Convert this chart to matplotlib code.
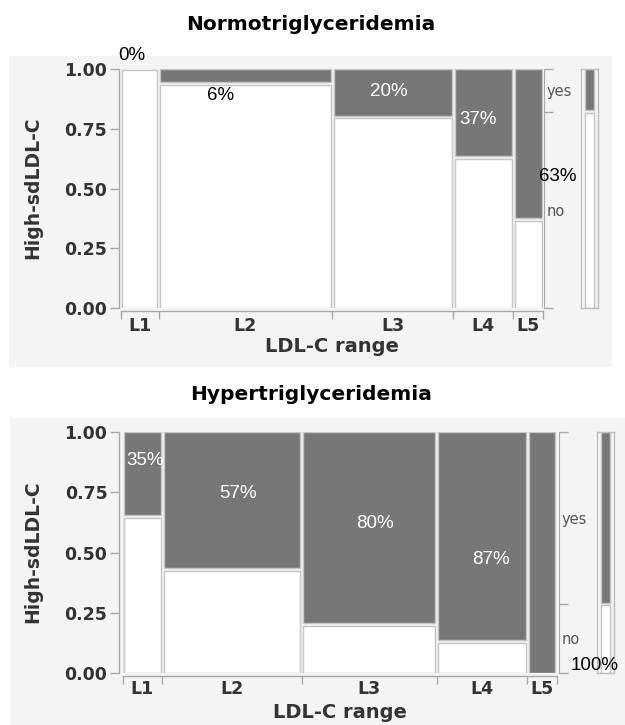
import numpy as np
from matplotlib import pyplot as plt
from matplotlib import font_manager
from matplotlib.patches import Rectangle

# LDL-C range levels and the share of patients in each one (column widths)
LEVELS = ["L1", "L2", "L3", "L4", "L5"]
NORMO_SHARE = [0.090, 0.411, 0.287, 0.143, 0.070]
HYPER_SHARE = [0.091, 0.321, 0.311, 0.208, 0.069]

# fraction with high sdLDL-C ("yes") in each level
NORMO_YES = [0.00, 0.06, 0.20, 0.37, 0.63]
HYPER_YES = [0.35, 0.57, 0.80, 0.87, 1.00]

GRAY = "#777777"
EDGE = "#c4c4c4"
SPINE = "#a8a8a8"
TEXT = "#333333"
W, H = 625, 725

# the percent labels use a narrow sans if there is one
_NAMES = {f.name for f in font_manager.fontManager.ttflist}
if "Liberation Sans Narrow" in _NAMES:
    PCT_FONT, PCT_SIZE = ["Liberation Sans Narrow", "DejaVu Sans"], 15.5
else:
    PCT_FONT, PCT_SIZE = ["Liberation Sans", "DejaVu Sans"], 13.5


def fig_box(x0, y0, x1, y1):
    """Pixel box (top-left origin) -> figure fraction rect."""
    return [x0 / W, 1 - y1 / H, (x1 - x0) / W, (y1 - y0) / H]


def draw_mosaic(ax, shares, yes, gap_x=0.007, gap_y=0.011):
    """Draw a mosaic plot: column width = share, gray = yes fraction."""
    shares = np.asarray(shares) / np.sum(shares)
    lefts = np.concatenate([[0], np.cumsum(shares)[:-1]])
    for left, width, frac in zip(lefts, shares, yes):
        split = 1 - frac
        if split > 0:
            ax.bar(left + gap_x / 2, max(split - gap_y / 2, 0), width - gap_x,
                   bottom=0, align="edge", color="white",
                   edgecolor=EDGE, linewidth=1.0)
        if frac > 0:
            low = split + gap_y / 2 if split > 0 else 0
            ax.bar(left + gap_x / 2, 1 - low, width - gap_x, bottom=low,
                   align="edge", color=GRAY, edgecolor=EDGE, linewidth=1.0)
    return lefts, shares


def style_axes(ax, lefts, shares, label_pad, left_out):
    """Axis ticks and spines like the JMP mosaic output."""
    ax.set_facecolor("none")
    ax.set_xlim(0, 1)
    ax.set_ylim(0, 1)
    for side in ["top", "right"]:
        ax.spines[side].set_visible(False)
    ax.spines["left"].set_position(("outward", left_out))
    ax.spines["bottom"].set_position(("outward", 2))
    for side in ["left", "bottom"]:
        ax.spines[side].set_color(SPINE)
        ax.spines[side].set_linewidth(1.0)

    ax.set_yticks([0, 0.25, 0.5, 0.75, 1.0])
    ax.set_yticklabels(["0.00", "0.25", "0.50", "0.75", "1.00"])
    ax.tick_params(axis="y", length=6.5, width=1.0, color=SPINE, pad=2,
                   labelsize=12.5, labelcolor=TEXT)

    bounds = list(lefts) + [1.0]
    ax.set_xticks(bounds)
    ax.set_xticklabels([])
    ax.set_xticks(lefts + shares / 2, minor=True)
    ax.set_xticklabels(LEVELS, minor=True)
    ax.tick_params(axis="x", which="major", length=6, width=1.0, color=SPINE)
    ax.tick_params(axis="x", which="minor", length=0, pad=label_pad,
                   labelsize=12.5, labelcolor=TEXT)
    for lab in ax.get_xticklabels(minor=True) + ax.get_yticklabels():
        lab.set_fontweight("bold")


def add_right_axis(ax, overall, right_out):
    """Right axis with yes / no labels at the overall split."""
    rax = ax.twinx()
    rax.set_ylim(0, 1)
    for side in ["top", "left", "bottom"]:
        rax.spines[side].set_visible(False)
    rax.spines["right"].set_position(("outward", right_out))
    rax.spines["right"].set_color(SPINE)
    split = 1 - overall
    rax.set_yticks([0, split, 1])
    rax.set_yticklabels([])
    rax.set_yticks([split / 2, split + overall / 2], minor=True)
    rax.set_yticklabels(["no", "yes"], minor=True)
    rax.tick_params(which="major", length=6.5, width=1.0, color=SPINE)
    rax.tick_params(which="minor", length=0, pad=1.5, labelsize=10.5,
                    labelcolor="#555555")
    rax.set_zorder(2)
    ax.set_zorder(4)


def add_side_bar(fig, rect, overall):
    """Small stacked bar with the overall yes / no split."""
    sax = fig.add_axes(rect)
    sax.set_zorder(1)
    sax.set_facecolor("none")
    sax.set_xlim(-0.5, 0.5)
    sax.set_ylim(0, 1)
    sax.set_xticks([])
    sax.set_yticks([])
    for sp in sax.spines.values():
        sp.set_color("#bdbdbd")
        sp.set_linewidth(1.0)
    split = 1 - overall
    sax.bar(0, split - 0.006, 0.53, bottom=0, color="white",
            edgecolor=EDGE, linewidth=1.0)
    sax.bar(0, overall - 0.006, 0.53, bottom=split + 0.006, color=GRAY,
            edgecolor=EDGE, linewidth=1.0)


def add_percent_labels(ax, lefts, shares, yes, dx, ys, colors):
    """Percent annotations placed over / beside each column."""
    centers = lefts + shares / 2
    for cx, frac, off, yy, col in zip(centers, yes, dx, ys, colors):
        ax.text(cx + off, yy, f"{round(frac * 100)}%", ha="center",
                va="center", color=col, fontsize=PCT_SIZE, clip_on=False,
                family=PCT_FONT, zorder=5)


def panel(fig, box, title, title_y, ylabel_y, xlabel_y, xlabel_x):
    """Light gray background panel with title and axis labels."""
    x0, y0, x1, y1 = box
    fig.add_artist(Rectangle((x0 / W, 1 - y1 / H), (x1 - x0) / W,
                             (y1 - y0) / H, transform=fig.transFigure,
                             facecolor="#f4f4f4", edgecolor="none",
                             zorder=0))
    fig.text(311 / W, 1 - title_y / H, title, ha="center", va="center",
             fontsize=14.5, fontweight="bold", color="black")
    fig.text(33 / W, 1 - ylabel_y / H, "High-sdLDL-C", rotation=90,
             ha="center", va="center", fontsize=13.5, fontweight="bold",
             color=TEXT)
    fig.text(xlabel_x / W, 1 - xlabel_y / H, "LDL-C range", ha="center",
             va="center", fontsize=14, fontweight="bold", color=TEXT)


def main() -> None:
    """Build both mosaic plots and save the figure."""
    fig = plt.figure(figsize=(W / 100, H / 100), dpi=100)

    # Normotriglyceridemia
    panel(fig, (9, 56, 612, 367), "Normotriglyceridemia", 25, 188, 346, 332)
    ax = fig.add_axes(fig_box(120.7, 69, 543, 308.3))
    lefts, shares = draw_mosaic(ax, NORMO_SHARE, NORMO_YES)
    style_axes(ax, lefts, shares, label_pad=4.5, left_out=1.2)
    overall = np.average(NORMO_YES, weights=shares)
    add_right_axis(ax, overall, right_out=1)
    add_side_bar(fig, fig_box(581, 69, 598, 308.3), overall)
    add_percent_labels(ax, lefts, shares, NORMO_YES,
                       [-0.019, -0.058, -0.009, -0.013, 0.069],
                       [1.058, 0.891, 0.904, 0.787, 0.549],
                       ["black", "black", "white", "white", "black"])

    # Hypertriglyceridemia
    panel(fig, (10, 418, 625, 725), "Hypertriglyceridemia", 395, 552, 712,
          340)
    ax = fig.add_axes(fig_box(122.7, 432, 557, 673))
    lefts, shares = draw_mosaic(ax, HYPER_SHARE, HYPER_YES)
    style_axes(ax, lefts, shares, label_pad=3, left_out=2.5)
    overall = np.average(HYPER_YES, weights=shares)
    add_right_axis(ax, overall, right_out=1.5)
    add_side_bar(fig, fig_box(597, 432, 614, 673), overall)
    add_percent_labels(ax, lefts, shares, HYPER_YES,
                       [0.006, 0.014, 0.014, 0.020, 0.120],
                       [0.880, 0.743, 0.622, 0.473, 0.033],
                       ["white", "white", "white", "white", "black"])

    fig.savefig("out.png", dpi=100)


if __name__ == "__main__":
    main()
